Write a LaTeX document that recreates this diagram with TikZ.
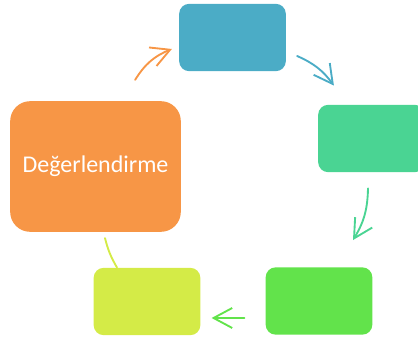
\documentclass[tikz,border=0pt]{standalone}
\usepackage{fontspec}
\setmainfont{Carlito}
\usetikzlibrary{arrows.meta}
\definecolor{cblue}{HTML}{4BACC6}
\definecolor{cteal}{HTML}{4AD493}
\definecolor{cgreen}{HTML}{62E34B}
\definecolor{cyellow}{HTML}{D4EB47}
\definecolor{corange}{HTML}{F79646}
\begin{document}
\begin{tikzpicture}[x=0.75pt, y=-0.75pt,
        box/.style={rounded corners=7.5pt, minimum width=80pt, minimum height=50.5pt, inner sep=0pt},
        arr/.style={line width=1.4pt, line cap=round, -{Straight Barb[length=14pt, width=15pt, line width=1.4pt]}}]
    \useasboundingbox (0, 0) rectangle (418, 341);
    % the five steps
    \node[box, fill=cblue] (plan) at (232.5, 37.5) {};
    \node[box, fill=cteal] (uygula) at (371.5, 138.5) {};
    \node[box, fill=cgreen] (izle) at (319, 301) {};
    \node[box, fill=cyellow] (duzelt) at (147, 301.5) {};
    \node[box, fill=corange, rounded corners=15pt, minimum width=128pt, minimum height=98pt,
          text=white, font=\fontsize{18}{20}\selectfont] (eval) at (95.5, 166.5) {Değerlendirme};
    % arrows round the cycle
    \draw[arr, corange] ([shift={(-46, -21)}]eval.north east) to[bend left=18] ([shift={(-7, 11.5)}]plan.west);
    \draw[arr, cblue] ([shift={(11, 18.5)}]plan.east) to[bend left=15] ([shift={(16, -19)}]uygula.north west);
    \draw[arr, cteal] ([shift={(-3.5, 16)}]uygula.south) to[bend left=15] ([shift={(34, -27)}]izle.north);
    \draw[arr, cgreen] ([shift={(-21, 17)}]izle.west) -- ([shift={(11, 16.5)}]duzelt.east);
    \draw[line width=1.4pt, line cap=round, cyellow] ([shift={(-30, 0)}]duzelt.north) to[bend left=8] ([shift={(9.5, 6)}]eval.south);
\end{tikzpicture}
\end{document}
